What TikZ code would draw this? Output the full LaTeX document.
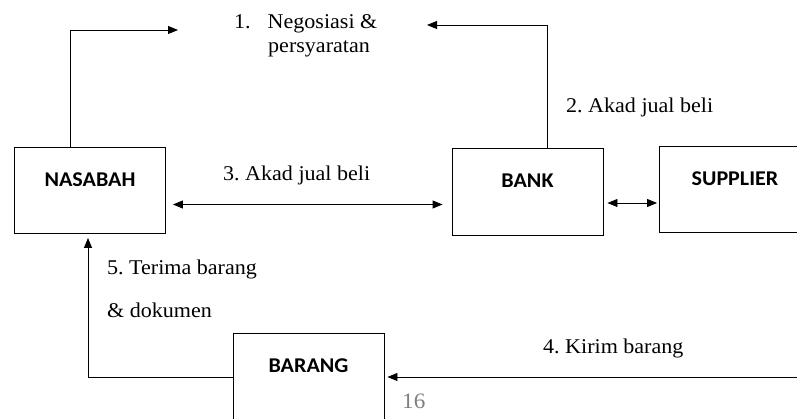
\documentclass[tikz,border=0pt]{standalone}
\usepackage{fontspec}
\setmainfont[FakeStretch=1.05]{Liberation Serif}
\newfontfamily\boxfont[FakeStretch=1.05]{Carlito}
\usepackage{tikz}
\usetikzlibrary{arrows.meta,positioning,calc}
\frenchspacing

\tikzset{
  box/.style={draw, line width=0.9pt, minimum width=151pt, minimum height=86pt,
    text height=13.5pt, text depth=20.5pt, font=\boxfont\fontsize{21}{25}\selectfont\bfseries},
  lbl/.style={anchor=base west, inner sep=0pt, font=\fontsize{21}{25}\selectfont},
  arr/.style={line width=0.9pt, -{Triangle[length=10pt,width=8pt]}},
  darr/.style={line width=0.9pt, {Triangle[length=10pt,width=8pt]}-{Triangle[length=10pt,width=8pt]}}
}

\begin{document}
\begin{tikzpicture}[x=1pt,y=-1pt]
\clip (0,0) rectangle (797,419);
\fill[white] (0,0) rectangle (797,419);

\node[box] (nasabah) at (90,190.5) {NASABAH};
\node[box, minimum height=87pt] (bank) at (527.5,191.5) {BANK};
\node[box] (supplier) at (735,189) {SUPPLIER};
\node[box, minimum height=110pt, text depth=44.5pt] (barang) at (308.5,388) {BARANG};

\coordinate (c1) at (70,30);
\coordinate (c1e) at (178,30);
\coordinate (c2) at (547,25);
\coordinate (c2e) at (427,25);
\coordinate (c3) at (300,204.5);
\coordinate (c4) at (630,203);
\coordinate (c5) at (88,377);
\coordinate (c6) at (800,377);

\draw[arr] (nasabah.north -| c1) -- (c1) -- (c1e);
\draw[arr] (bank.north -| c2) -- (c2) -- (c2e);
\draw[darr, shorten <=7pt, shorten >=9pt] (nasabah.east |- c3) -- (bank.west |- c3);
\draw[darr, shorten <=4pt, shorten >=2pt] (bank.east |- c4) -- (supplier.west |- c4);
\draw[arr, shorten >=4pt] (barang.west |- c5) -- (c5) -- (nasabah.south -| c5);
\draw[arr, shorten >=3pt] (c6) -- (barang.east |- c6);

\node[lbl] (neg) at (234,29) {1.\hspace{17pt}Negosiasi \&};
\node[lbl] (negb) at (268,53) {persyaratan};
\node[lbl] (akad2) at (566,113) {2. Akad jual beli};
\node[lbl] (akad3) at (223,181) {3. Akad jual beli};
\node[lbl] (kirim) at (543,353) {4. Kirim barang};
\node[lbl] (terima) at (107,275) {5. Terima barang};
\node[lbl] (terimab) at (107,317) {\& dokumen};
\node[lbl, text=gray, font=\fontsize{22}{26}\selectfont] (page) at (402,408) {16};

\end{tikzpicture}
\end{document}
